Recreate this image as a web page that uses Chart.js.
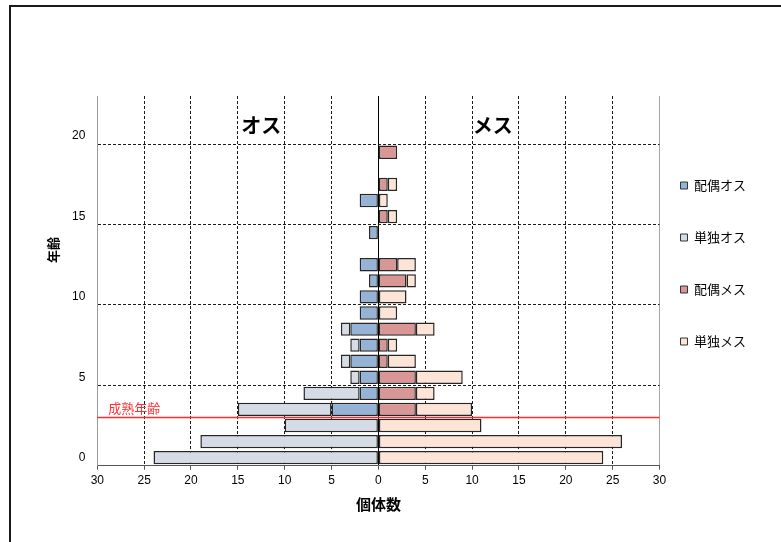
<!DOCTYPE html>
<html>
<head>
<meta charset="utf-8">
<script src="https://cdn.jsdelivr.net/npm/chart.js@4/dist/chart.umd.min.js"></script>
<style>
  html, body { margin: 0; padding: 0; background: #fff; }
  #wrap { position: relative; width: 781px; height: 542px; overflow: hidden; }
  #wrap canvas { position: absolute; left: 0; top: 0; }
  #frame { position: absolute; left: 9px; top: 5px; right: -10px; bottom: -10px;
           border-left: 2px solid #1a1a1a; border-top: 2px solid #1a1a1a; pointer-events: none; }
</style>
</head>
<body>
<div id="wrap">
  <canvas id="pyramid" width="781" height="542"></canvas>
  <div id="frame"></div>
</div>
<script>
// 年齢（カテゴリ）
const ageLabels = ['0','1','2','3','4','5','6','7','8','9','10','11','12','13','14','15','16','17','18','19','20','21','22'];

// 個体数（年齢 0 から順に）
const pairedMale   = [0, 0, 0, 5, 2, 2, 3, 2, 3, 2, 2, 1, 2, 0, 1, 0, 2, 0, 0, 0, 0, 0, 0];
const singleMale   = [24, 19, 10, 10, 6, 1, 1, 1, 1, 0, 0, 0, 0, 0, 0, 0, 0, 0, 0, 0, 0, 0, 0];
const pairedFemale = [0, 0, 0, 4, 4, 4, 1, 1, 4, 0, 0, 3, 2, 0, 0, 1, 0, 1, 0, 2, 0, 0, 0];
const singleFemale = [24, 26, 11, 6, 2, 5, 3, 1, 2, 2, 3, 1, 2, 0, 0, 1, 1, 1, 0, 0, 0, 0, 0];

const seriesNames = ['配偶オス', '単独オス', '配偶メス', '単独メス'];
const countTicks = [-30, -25, -20, -15, -10, -5, 0, 5, 10, 15, 20, 25, 30];
const maturityAge = 3;
const sideLabels = [{ text: 'オス', count: -12.5 }, { text: 'メス', count: 12.2 }];

const FONT = '"Noto Sans CJK JP", "Noto Sans", sans-serif';
const NUM_FONT = '"Liberation Sans", "Noto Sans CJK JP", sans-serif';

// オスは左側（負方向）に描く
const leftSide = a => a.map(v => (v ? -v : null));
const rightSide = a => a.map(v => (v ? v : null));

const datasets = [
  { label: seriesNames[0], data: leftSide(pairedMale),    backgroundColor: '#95B3D7' },
  { label: seriesNames[1], data: leftSide(singleMale),    backgroundColor: '#D6DCE5' },
  { label: seriesNames[2], data: rightSide(pairedFemale), backgroundColor: '#DA9694' },
  { label: seriesNames[3], data: rightSide(singleFemale), backgroundColor: '#FCE4D6' }
];

// 成熟年齢の線と「オス」「メス」の見出し
const annotations = {
  id: 'annotations',
  afterDatasetsDraw(chart) {
    const { ctx, chartArea: a, scales: { x, y } } = chart;
    const yy = y.getPixelForValue(maturityAge - 0.5);
    ctx.save();
    ctx.strokeStyle = '#FF2A2A';
    ctx.lineWidth = 1.6;
    ctx.beginPath();
    ctx.moveTo(a.left, yy);
    ctx.lineTo(a.right, yy);
    ctx.stroke();
    ctx.fillStyle = '#FF3030';
    ctx.font = '13px ' + FONT;
    ctx.textAlign = 'left';
    ctx.textBaseline = 'middle';
    ctx.fillText('成熟年齢', a.left + 11, yy - 9);

    ctx.fillStyle = '#000';
    ctx.font = 'bold 20px ' + FONT;
    ctx.textAlign = 'center';
    const ly = y.getPixelForValue(20.7);
    sideLabels.forEach(s => ctx.fillText(s.text, x.getPixelForValue(s.count), ly));
    ctx.restore();
  },
  afterDraw(chart) {
    const { ctx } = chart;
    ctx.save();
    ctx.translate(53, 250);
    ctx.rotate(-Math.PI / 2);
    ctx.fillStyle = '#000';
    ctx.font = 'bold 13px ' + FONT;
    ctx.textAlign = 'center';
    ctx.textBaseline = 'middle';
    ctx.fillText('年齢', 0, 0);
    ctx.restore();
  }
};

// 凡例をプロット右側の縦並びに配置
const legendPlacement = {
  id: 'legendPlacement',
  afterLayout(chart) {
    const lg = chart.legend;
    if (!lg) return;
    const pad = lg.options.labels.padding;
    const w = lg.width, h = lg.height;
    lg.left = chart.chartArea.right + 21 - pad;
    lg.right = lg.left + w;
    lg.top = 140;
    lg.bottom = lg.top + h;
  }
};

new Chart(document.getElementById('pyramid'), {
  type: 'bar',
  data: { labels: ageLabels, datasets },
  plugins: [annotations, legendPlacement],
  options: {
    indexAxis: 'y',
    responsive: false,
    animation: false,
    layout: { padding: { left: 50, top: 96, right: 7, bottom: 25 } },
    datasets: {
      bar: {
        categoryPercentage: 0.83,
        barPercentage: 1,
        borderColor: '#262626',
        borderWidth: 1.5,
        borderSkipped: false
      }
    },
    scales: {
      x: {
        type: 'linear',
        stacked: true,
        min: countTicks[0],
        max: countTicks[countTicks.length - 1],
        afterBuildTicks: s => { s.ticks = countTicks.map(v => ({ value: v })); },
        afterFit: s => { s.height = 51.3; },
        ticks: {
          callback: v => Math.abs(v),
          font: { family: NUM_FONT, size: 12 },
          color: '#000',
          padding: 4,
          maxRotation: 0
        },
        grid: {
          color: c => {
            const v = c.tick ? c.tick.value : null;
            if (v === 0) return '#000';
            if (v === 30) return '#A6A6A6';
            if (v === -30) return 'rgba(0,0,0,0)';
            return '#1a1a1a';
          },
          lineWidth: 1,
          tickLength: 4,
          tickColor: '#555',
          tickBorderDash: []
        },
        border: {
          color: '#555',
          width: 1,
          dash: c => (c.tick && c.tick.value % 30 !== 0 ? [3, 2] : [])
        },
        title: {
          display: true,
          text: '個体数',
          color: '#000',
          font: { family: FONT, size: 15, weight: 'bold' },
          padding: { top: 4, bottom: 4 }
        }
      },
      y: {
        type: 'category',
        labels: ageLabels,
        stacked: true,
        reverse: true,
        afterFit: s => { s.width = 47.3; },
        ticks: {
          autoSkip: false,
          callback: function (v) {
            const lab = this.getLabelForValue(v);
            return Number(lab) % 5 === 0 ? lab : '';
          },
          font: { family: NUM_FONT, size: 12 },
          color: '#000',
          padding: 12
        },
        grid: {
          offset: true,
          drawTicks: false,
          lineWidth: 1,
          color: c => {
            const i = c.index;
            if (i === ageLabels.length) return '#A6A6A6';
            if (i > 0 && i % 5 === 0) return '#1a1a1a';
            return 'rgba(0,0,0,0)';
          }
        },
        border: {
          color: '#9A9A9A',
          width: 1,
          dash: c => (c.index === ageLabels.length ? [] : [3, 2])
        }
      }
    },
    plugins: {
      legend: {
        position: 'right',
        align: 'start',
        labels: {
          boxWidth: 7,
          boxHeight: 7,
          padding: 39,
          color: '#000',
          font: { family: FONT, size: 13 },
          generateLabels(chart) {
            const items = Chart.defaults.plugins.legend.labels.generateLabels(chart);
            items.forEach(it => { it.lineWidth = 1; it.strokeStyle = '#333'; });
            return items;
          }
        }
      },
      tooltip: { enabled: false }
    }
  }
});
</script>
</body>
</html>
